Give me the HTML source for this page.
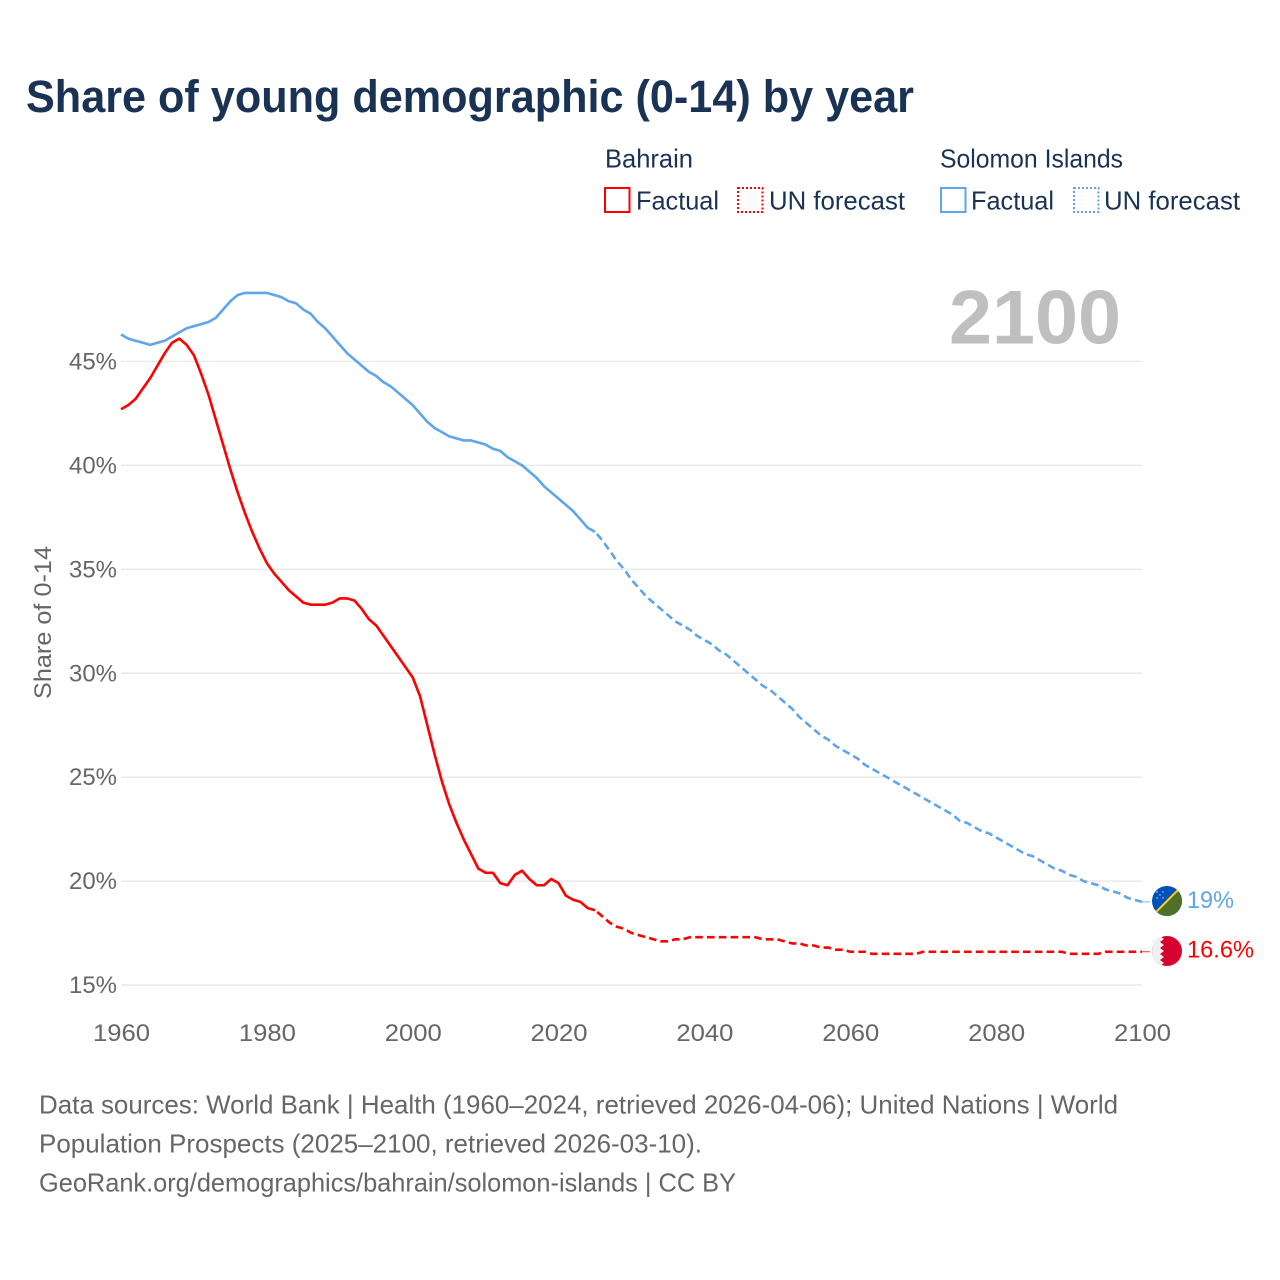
<!DOCTYPE html>
<html lang="en">
<head>
<meta charset="utf-8">
<title>Share of young demographic (0-14) by year</title>
<style>
  html, body { margin: 0; padding: 0; background: #fff; }
  svg { display: block; font-family: "Liberation Sans", sans-serif; }
</style>
</head>
<body>
<svg id="chart" xmlns="http://www.w3.org/2000/svg" width="1280" height="1280" viewBox="0 0 1280 1280">
  <rect x="0" y="0" width="1280" height="1280" fill="#fff"/>
  <text x="26" y="112" font-size="45" font-weight="700" fill="#1a3354" textLength="888" lengthAdjust="spacingAndGlyphs">Share of young demographic (0-14) by year</text>

  <g font-size="26" fill="#1a3354">
    <text x="605" y="167.5" textLength="88" lengthAdjust="spacingAndGlyphs">Bahrain</text>
    <text x="940" y="167.5" textLength="183" lengthAdjust="spacingAndGlyphs">Solomon Islands</text>
    <rect x="605" y="188" width="24.5" height="24" fill="none" stroke="#ff0000" stroke-width="2"/>
    <text x="636" y="209.5" textLength="83" lengthAdjust="spacingAndGlyphs">Factual</text>
    <rect x="738" y="188" width="24.5" height="24" fill="none" stroke="#ff0000" stroke-width="2" stroke-dasharray="2 2"/>
    <text x="769" y="209.5" textLength="136" lengthAdjust="spacingAndGlyphs">UN forecast</text>
    <rect x="941" y="188" width="24.5" height="24" fill="none" stroke="#5ea5ea" stroke-width="2"/>
    <text x="971" y="209.5" textLength="83" lengthAdjust="spacingAndGlyphs">Factual</text>
    <rect x="1074" y="188" width="24.5" height="24" fill="none" stroke="#5ea5ea" stroke-width="2" stroke-dasharray="2 2"/>
    <text x="1104" y="209.5" textLength="136" lengthAdjust="spacingAndGlyphs">UN forecast</text>
  </g>

  <text x="949" y="343.5" font-size="76" font-weight="700" fill="#bfbfbf" textLength="172" lengthAdjust="spacingAndGlyphs">2100</text>

  <text transform="translate(51 699) rotate(-90)" font-size="24" fill="#666" textLength="153" lengthAdjust="spacingAndGlyphs">Share of 0-14</text>

  <g id="grid"></g>
  <g id="y-labels" font-size="24" fill="#666" text-anchor="end"></g>
  <g id="x-labels" font-size="24" fill="#666" text-anchor="middle"></g>
  <g id="series" fill="none"></g>

  <defs>
    <clipPath id="clip-solomon"><circle cx="1167" cy="901" r="15"/></clipPath>
    <clipPath id="clip-bahrain"><circle cx="1167" cy="951" r="15"/></clipPath>
  </defs>

  <g clip-path="url(#clip-solomon)">
    <rect x="1152" y="886" width="30" height="30" fill="#0051ba"/>
    <polygon points="1152,916 1182,886 1182,916" fill="#4e7029"/>
    <line x1="1152" y1="916" x2="1182" y2="886" stroke="#fcd116" stroke-width="2"/>
    <g fill="#fff" opacity="0.8">
      <circle cx="1157" cy="892" r="0.7"/><circle cx="1163" cy="892" r="0.7"/>
      <circle cx="1160" cy="895" r="0.7"/><circle cx="1157" cy="898" r="0.7"/><circle cx="1163" cy="898" r="0.7"/>
    </g>
  </g>
  <g clip-path="url(#clip-bahrain)">
    <rect x="1152" y="936" width="30" height="30" fill="#d7012e"/>
    <polygon points="1152,936 1160,936 1164,939 1160,942 1164,945 1160,948 1164,951 1160,954 1164,957 1160,960 1164,963 1160,966 1152,966" fill="#f0f0f0"/>
  </g>

  <g id="end-labels" font-size="24"></g>

  <g font-size="26" fill="#666">
    <text x="39" y="1113.5" textLength="1079" lengthAdjust="spacingAndGlyphs">Data sources: World Bank | Health (1960–2024, retrieved 2026-04-06); United Nations | World</text>
    <text x="39" y="1152.5" textLength="663" lengthAdjust="spacingAndGlyphs">Population Prospects (2025–2100, retrieved 2026-03-10).</text>
    <text x="39" y="1191.5" textLength="697" lengthAdjust="spacingAndGlyphs">GeoRank.org/demographics/bahrain/solomon-islands | CC BY</text>
  </g>
</svg>

<script>
const factualStartYear = 1960;
const forecastStartYear = 2025;
const xTickYears = [1960, 1980, 2000, 2020, 2040, 2060, 2080, 2100];
const yTickValues = [15, 20, 25, 30, 35, 40, 45];

const bahrainFactual = [
  42.7,42.9,43.2,43.7,44.2,44.8,45.4,45.9,46.1,45.8,
  45.3,44.4,43.4,42.2,41.0,39.8,38.7,37.7,36.8,36.0,
  35.3,34.8,34.4,34.0,33.7,33.4,33.3,33.3,33.3,33.4,
  33.6,33.6,33.5,33.1,32.6,32.3,31.8,31.3,30.8,30.3,
  29.8,28.9,27.5,26.1,24.8,23.7,22.8,22.0,21.3,20.6,
  20.4,20.4,19.9,19.8,20.3,20.5,20.1,19.8,19.8,20.1,
  19.9,19.3,19.1,19.0,18.7,18.6
];
const bahrainForecast = [
  18.6,18.3,18.0,17.8,17.7,
  17.5,17.4,17.3,17.2,17.1,17.1,17.2,17.2,17.3,17.3,
  17.3,17.3,17.3,17.3,17.3,17.3,17.3,17.3,17.2,17.2,
  17.2,17.1,17.0,17.0,16.9,16.9,16.8,16.8,16.7,16.7,
  16.6,16.6,16.6,16.5,16.5,16.5,16.5,16.5,16.5,16.5,
  16.6,16.6,16.6,16.6,16.6,16.6,16.6,16.6,16.6,16.6,
  16.6,16.6,16.6,16.6,16.6,16.6,16.6,16.6,16.6,16.6,
  16.5,16.5,16.5,16.5,16.5,16.6,16.6,16.6,16.6,16.6,
  16.6
];
const solomonFactual = [
  46.3,46.1,46.0,45.9,45.8,45.9,46.0,46.2,46.4,46.6,
  46.7,46.8,46.9,47.1,47.5,47.9,48.2,48.3,48.3,48.3,
  48.3,48.2,48.1,47.9,47.8,47.5,47.3,46.9,46.6,46.2,
  45.8,45.4,45.1,44.8,44.5,44.3,44.0,43.8,43.5,43.2,
  42.9,42.5,42.1,41.8,41.6,41.4,41.3,41.2,41.2,41.1,
  41.0,40.8,40.7,40.4,40.2,40.0,39.7,39.4,39.0,38.7,
  38.4,38.1,37.8,37.4,37.0,36.8
];
const solomonForecast = [
  36.8,36.4,35.9,35.4,35.0,
  34.5,34.1,33.7,33.4,33.1,32.8,32.5,32.3,32.1,31.8,
  31.6,31.4,31.1,30.9,30.6,30.3,30.0,29.7,29.4,29.2,
  28.9,28.6,28.3,27.9,27.6,27.3,27.0,26.8,26.5,26.3,
  26.1,25.9,25.6,25.4,25.2,25.0,24.8,24.6,24.4,24.2,
  24.0,23.8,23.6,23.4,23.2,22.9,22.8,22.6,22.4,22.3,
  22.1,21.9,21.7,21.5,21.3,21.2,21.0,20.8,20.6,20.5,
  20.3,20.2,20.0,19.9,19.8,19.6,19.5,19.4,19.2,19.1,
  19.0
];

const SVG_NS = 'http://www.w3.org/2000/svg';
const RED = '#ff0000';
const BLUE = '#5ea5ea';
const FLAG_LEFT = 1152;

function xScale(year) {
  return 121 + (year - 1960) * (1142 - 121) / 140;
}
function yScale(value) {
  return 985 - (value - 15) * (985 - 361.5) / 30;
}
function pathFrom(values, startYear) {
  return values.map(function (v, i) {
    return (i ? 'L' : 'M') + xScale(startYear + i).toFixed(2) + ' ' + yScale(v).toFixed(2);
  }).join(' ');
}
function make(tag, attrs, parent) {
  const el = document.createElementNS(SVG_NS, tag);
  Object.keys(attrs).forEach(function (k) { el.setAttribute(k, attrs[k]); });
  parent.appendChild(el);
  return el;
}

const grid = document.getElementById('grid');
const yLabels = document.getElementById('y-labels');
const xLabels = document.getElementById('x-labels');
const series = document.getElementById('series');
const endLabels = document.getElementById('end-labels');

yTickValues.forEach(function (t) {
  const line = make('line', { x1: xScale(1960), x2: xScale(2100), y1: yScale(t), y2: yScale(t), stroke: '#e9e9e9', 'stroke-width': 1.5 }, grid);
  
  
  const label = make('text', { x: 117, y: yScale(t) + 8, textLength: 48, lengthAdjust: 'spacingAndGlyphs' }, yLabels);
  label.textContent = t + '%';
  
  
});

xTickYears.forEach(function (yr) {
  const label = make('text', { x: xScale(yr) + 0.5, y: 1041, textLength: 57, lengthAdjust: 'spacingAndGlyphs' }, xLabels);
  label.textContent = String(yr);
  
  
});

function drawSeries(key, color, factual, forecast, labelWidth) {
  const solid = make('path', { d: pathFrom(factual, factualStartYear), stroke: color, 'stroke-width': 2.6, 'stroke-linejoin': 'round' }, series);
  
  

  const dashed = make('path', { d: pathFrom(forecast, forecastStartYear), stroke: color, 'stroke-width': 2.6, 'stroke-dasharray': '7.6 4.2', 'stroke-dashoffset': 9, 'stroke-linejoin': 'round' }, series);
  
  

  const last = forecast[forecast.length - 1];
  const leader = make('line', { x1: xScale(2100), x2: FLAG_LEFT - 2, y1: yScale(last), y2: yScale(last), stroke: color, 'stroke-width': 1, opacity: 0.8 }, series);
  
  

  const label = make('text', { x: 1187, y: yScale(last) + 6, fill: color, textLength: labelWidth, lengthAdjust: 'spacingAndGlyphs' }, endLabels);
  label.textContent = last + '%';
  
  
}

drawSeries('bahrain', RED, bahrainFactual, bahrainForecast, 67);
drawSeries('solomon-islands', BLUE, solomonFactual, solomonForecast, 47);
</script>
</body>
</html>
